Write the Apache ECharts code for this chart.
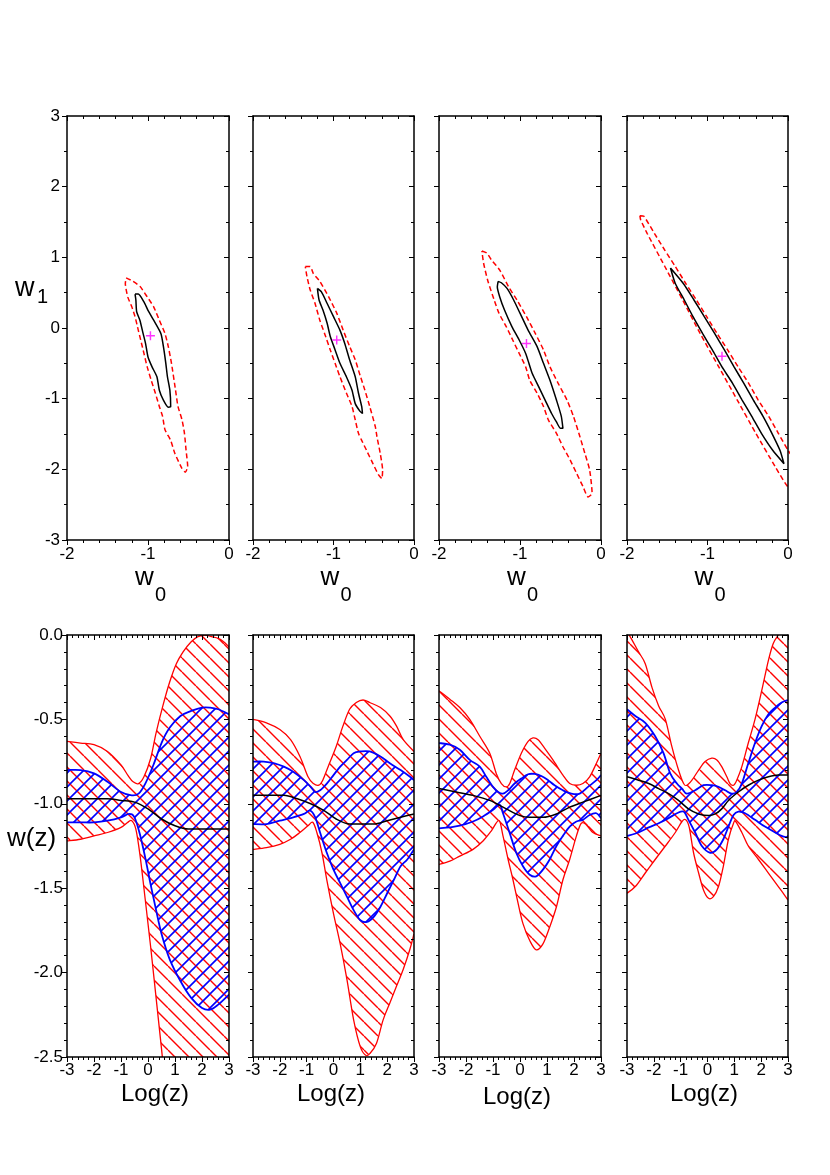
<!DOCTYPE html>
<html>
<head>
<meta charset="utf-8">
<title>w0-w1 contours and w(z) bands</title>
<script src="https://cdn.jsdelivr.net/npm/echarts@6/dist/echarts.min.js"></script>
<style>
html, body { margin: 0; padding: 0; background: #fff; }
#chart { width: 830px; height: 1175px; }
</style>
</head>
<body>
<div id="chart"></div>
<script>
// ---- axis ranges / ticks ----
var w0Range = [-2, 0];     // top row x
var w1Range = [-3, 3];     // top row y
var logzRange = [-3, 3];   // bottom row x
var wzRange = [-2.5, 0];   // bottom row y

// ---- top row: (w0, w1) contours ----
var black1 = [[-1.16,0.48],[-1.12,0.48],[-1.05,0.37],[-1.00,0.25],[-0.93,0.11],[-0.84,-0.08],[-0.81,-0.26],[-0.78,-0.50],[-0.76,-0.69],[-0.73,-0.88],[-0.72,-1.11],[-0.75,-1.12],[-0.81,-1.02],[-0.86,-0.88],[-0.89,-0.69],[-0.95,-0.55],[-1.00,-0.41],[-1.03,-0.22],[-1.06,-0.08],[-1.10,0.11],[-1.14,0.23],[-1.15,0.40],[-1.16,0.48]];
var red1 = [[-1.27,0.71],[-1.20,0.67],[-1.10,0.59],[-1.01,0.44],[-0.93,0.30],[-0.86,0.11],[-0.79,-0.08],[-0.75,-0.26],[-0.71,-0.50],[-0.66,-0.88],[-0.63,-1.11],[-0.58,-1.30],[-0.55,-1.49],[-0.53,-1.73],[-0.51,-1.96],[-0.54,-2.04],[-0.58,-1.99],[-0.67,-1.77],[-0.72,-1.59],[-0.79,-1.44],[-0.82,-1.25],[-0.86,-1.11],[-0.91,-0.92],[-0.96,-0.74],[-1.01,-0.55],[-1.05,-0.36],[-1.09,-0.17],[-1.12,-0.03],[-1.16,0.16],[-1.20,0.30],[-1.25,0.44],[-1.28,0.63],[-1.27,0.71]];

var black2 = [[-1.20,0.56],[-1.15,0.51],[-1.08,0.35],[-1.00,0.16],[-0.92,-0.03],[-0.86,-0.22],[-0.80,-0.45],[-0.73,-0.69],[-0.69,-0.92],[-0.65,-1.11],[-0.64,-1.21],[-0.67,-1.18],[-0.73,-1.07],[-0.77,-0.88],[-0.84,-0.69],[-0.92,-0.50],[-0.98,-0.31],[-1.04,-0.12],[-1.08,0.07],[-1.13,0.25],[-1.18,0.40],[-1.20,0.56]];
var red2 = [[-1.35,0.87],[-1.29,0.87],[-1.25,0.77],[-1.17,0.66],[-1.06,0.44],[-0.96,0.21],[-0.88,-0.03],[-0.80,-0.26],[-0.73,-0.45],[-0.67,-0.67],[-0.61,-0.88],[-0.55,-1.11],[-0.48,-1.40],[-0.46,-1.54],[-0.42,-1.77],[-0.39,-2.01],[-0.40,-2.13],[-0.44,-2.08],[-0.51,-1.92],[-0.59,-1.73],[-0.65,-1.59],[-0.69,-1.49],[-0.73,-1.30],[-0.77,-1.11],[-0.84,-0.92],[-0.92,-0.69],[-0.98,-0.50],[-1.04,-0.31],[-1.11,-0.08],[-1.17,0.11],[-1.23,0.35],[-1.29,0.54],[-1.33,0.73],[-1.35,0.87]];

var black3 = [[-1.27,0.66],[-1.23,0.64],[-1.16,0.56],[-1.08,0.40],[-1.00,0.21],[-0.90,-0.03],[-0.79,-0.26],[-0.71,-0.50],[-0.63,-0.74],[-0.55,-1.02],[-0.49,-1.25],[-0.47,-1.42],[-0.50,-1.42],[-0.55,-1.33],[-0.61,-1.21],[-0.69,-1.02],[-0.77,-0.83],[-0.85,-0.64],[-0.89,-0.50],[-0.93,-0.36],[-1.01,-0.17],[-1.10,0.02],[-1.19,0.25],[-1.25,0.44],[-1.28,0.58],[-1.27,0.66]];
var red3 = [[-1.47,1.09],[-1.41,1.06],[-1.35,0.96],[-1.25,0.82],[-1.14,0.58],[-1.04,0.40],[-0.92,0.16],[-0.81,-0.08],[-0.71,-0.31],[-0.63,-0.55],[-0.53,-0.78],[-0.42,-1.02],[-0.34,-1.25],[-0.26,-1.54],[-0.20,-1.77],[-0.14,-2.01],[-0.11,-2.34],[-0.16,-2.39],[-0.22,-2.25],[-0.30,-2.06],[-0.38,-1.87],[-0.47,-1.68],[-0.55,-1.49],[-0.65,-1.30],[-0.71,-1.11],[-0.79,-0.92],[-0.88,-0.74],[-0.93,-0.55],[-1.01,-0.36],[-1.09,-0.17],[-1.17,0.02],[-1.26,0.21],[-1.32,0.40],[-1.40,0.68],[-1.45,0.92],[-1.47,1.09]];

var black4 = [[-1.46,0.85],[-1.30,0.63],[-1.17,0.40],[-1.04,0.16],[-0.91,-0.08],[-0.79,-0.31],[-0.67,-0.55],[-0.55,-0.78],[-0.43,-1.02],[-0.31,-1.25],[-0.20,-1.49],[-0.10,-1.73],[-0.05,-1.92],[-0.19,-1.73],[-0.33,-1.49],[-0.45,-1.25],[-0.57,-1.02],[-0.69,-0.78],[-0.82,-0.55],[-0.94,-0.31],[-1.06,-0.08],[-1.18,0.16],[-1.29,0.40],[-1.40,0.63],[-1.46,0.85]];
var red4 = [[-1.84,1.59],[-1.79,1.58],[-1.66,1.34],[-1.53,1.10],[-1.40,0.87],[-1.27,0.63],[-1.14,0.40],[-1.01,0.16],[-0.88,-0.08],[-0.75,-0.31],[-0.62,-0.55],[-0.49,-0.78],[-0.37,-1.02],[-0.24,-1.25],[-0.12,-1.49],[0.00,-1.73],[0.09,-1.89],[0.12,-2.06],[0.09,-2.27],[0.00,-2.25],[-0.16,-1.96],[-0.40,-1.49],[-0.63,-1.02],[-0.86,-0.55],[-1.09,-0.08],[-1.31,0.40],[-1.53,0.87],[-1.75,1.34],[-1.83,1.53],[-1.84,1.59]];

var bestFit = [[-0.97,-0.11],[-0.96,-0.17],[-0.92,-0.22],[-0.82,-0.40]];

// ---- bottom row: w(z) against log(z) ----
var redUp1 = [[-3,-0.63],[-2.5,-0.64],[-2,-0.65],[-1.5,-0.69],[-1,-0.77],[-0.75,-0.83],[-0.55,-0.87],[-0.35,-0.88],[-0.15,-0.84],[0.1,-0.73],[0.3,-0.58],[0.55,-0.42],[0.8,-0.28],[1.05,-0.17],[1.3,-0.10],[1.6,-0.04],[1.85,-0.01],[2.1,0],[2.35,-0.01],[2.6,-0.02],[2.8,-0.04],[3,-0.07]];
var redLo1 = [[-3,-1.22],[-2.5,-1.21],[-2,-1.19],[-1.5,-1.17],[-1,-1.14],[-0.75,-1.11],[-0.6,-1.10],[-0.45,-1.15],[-0.3,-1.30],[-0.1,-1.57],[0.1,-1.85],[0.3,-2.15],[0.5,-2.45],[0.7,-2.75],[1,-3.0],[2,-3.2],[3,-3.3]];
var bluUp1 = [[-3,-0.80],[-2.5,-0.80],[-2,-0.82],[-1.5,-0.87],[-1,-0.93],[-0.6,-0.95],[-0.35,-0.94],[-0.1,-0.88],[0.2,-0.77],[0.5,-0.64],[0.8,-0.55],[1.2,-0.48],[1.6,-0.45],[2,-0.43],[2.3,-0.43],[2.6,-0.44],[3,-0.47]];
var bluLo1 = [[-3,-1.11],[-2.5,-1.11],[-2,-1.11],[-1.5,-1.10],[-1,-1.08],[-0.7,-1.06],[-0.5,-1.08],[-0.3,-1.18],[-0.1,-1.32],[0.1,-1.48],[0.3,-1.63],[0.5,-1.77],[0.8,-1.92],[1.2,-2.05],[1.6,-2.15],[2,-2.21],[2.3,-2.22],[2.6,-2.19],[3,-2.13]];
var mean1 = [[-3,-0.97],[-2.5,-0.97],[-2,-0.97],[-1.5,-0.97],[-1,-0.98],[-0.5,-0.99],[0,-1.03],[0.5,-1.09],[1,-1.13],[1.5,-1.15],[2,-1.15],[2.5,-1.15],[3,-1.15]];

var redUp2 = [[-3,-0.50],[-2.5,-0.52],[-2,-0.56],[-1.6,-0.62],[-1.25,-0.72],[-0.95,-0.84],[-0.75,-0.88],[-0.55,-0.89],[-0.4,-0.86],[-0.2,-0.78],[0.1,-0.66],[0.35,-0.54],[0.6,-0.44],[0.85,-0.40],[1.1,-0.385],[1.35,-0.40],[1.75,-0.43],[2.1,-0.48],[2.35,-0.54],[2.6,-0.62],[3,-0.69]];
var redLo2 = [[-3,-1.27],[-2.5,-1.26],[-2,-1.24],[-1.6,-1.21],[-1.25,-1.17],[-0.95,-1.13],[-0.77,-1.11],[-0.62,-1.17],[-0.43,-1.29],[-0.25,-1.45],[0,-1.65],[0.25,-1.83],[0.5,-2.04],[0.75,-2.28],[1,-2.44],[1.2,-2.49],[1.35,-2.48],[1.6,-2.42],[1.85,-2.28],[2.1,-2.18],[2.35,-2.08],[2.6,-1.98],[2.85,-1.86],[3,-1.77]];
var bluUp2 = [[-3,-0.75],[-2.6,-0.75],[-2.2,-0.76],[-1.85,-0.78],[-1.5,-0.81],[-1.1,-0.86],[-0.85,-0.90],[-0.68,-0.93],[-0.5,-0.92],[-0.25,-0.88],[0,-0.83],[0.25,-0.78],[0.5,-0.74],[0.75,-0.70],[1,-0.69],[1.35,-0.69],[1.75,-0.72],[2.1,-0.76],[2.5,-0.80],[2.85,-0.84],[3,-0.86]];
var bluLo2 = [[-3,-1.12],[-2.5,-1.12],[-2,-1.10],[-1.5,-1.08],[-1.1,-1.06],[-0.87,-1.04],[-0.68,-1.08],[-0.5,-1.17],[-0.25,-1.29],[0,-1.39],[0.25,-1.47],[0.5,-1.55],[0.75,-1.63],[1,-1.69],[1.25,-1.70],[1.5,-1.67],[1.75,-1.61],[2,-1.53],[2.25,-1.45],[2.5,-1.37],[2.75,-1.33],[3,-1.27]];
var mean2 = [[-3,-0.95],[-2.5,-0.95],[-1.85,-0.95],[-1.35,-0.97],[-0.85,-1.00],[-0.35,-1.04],[0.1,-1.09],[0.6,-1.12],[1,-1.12],[1.5,-1.12],[2,-1.10],[2.5,-1.08],[3,-1.06]];

var redUp3 = [[-3,-0.33],[-2.6,-0.38],[-2.23,-0.43],[-1.86,-0.50],[-1.49,-0.60],[-1.12,-0.70],[-0.88,-0.82],[-0.69,-0.88],[-0.51,-0.90],[-0.38,-0.88],[-0.2,-0.80],[0.05,-0.70],[0.3,-0.63],[0.48,-0.61],[0.67,-0.62],[0.91,-0.67],[1.22,-0.74],[1.59,-0.83],[1.84,-0.88],[2.09,-0.89],[2.33,-0.88],[2.58,-0.84],[2.83,-0.76],[3,-0.70]];
var redLo3 = [[-3,-1.36],[-2.6,-1.34],[-2.23,-1.31],[-1.74,-1.27],[-1.37,-1.22],[-1.06,-1.16],[-0.78,-1.10],[-0.63,-1.19],[-0.44,-1.33],[-0.26,-1.45],[-0.07,-1.59],[0.11,-1.71],[0.36,-1.81],[0.6,-1.865],[0.85,-1.83],[1.1,-1.73],[1.35,-1.61],[1.59,-1.45],[1.84,-1.33],[2.09,-1.19],[2.27,-1.115],[2.46,-1.125],[2.7,-1.17],[3,-1.19]];
var bluUp3 = [[-3,-0.64],[-2.6,-0.65],[-2.23,-0.68],[-1.86,-0.74],[-1.49,-0.78],[-1.25,-0.84],[-1,-0.90],[-0.81,-0.93],[-0.63,-0.94],[-0.44,-0.92],[-0.2,-0.88],[0.05,-0.85],[0.3,-0.825],[0.54,-0.823],[0.79,-0.835],[1.04,-0.86],[1.28,-0.89],[1.59,-0.92],[1.9,-0.94],[2.21,-0.94],[2.52,-0.90],[2.83,-0.86],[3,-0.83]];
var bluLo3 = [[-3,-1.145],[-2.6,-1.14],[-2.23,-1.13],[-1.74,-1.105],[-1.37,-1.075],[-1,-1.036],[-0.75,-1.006],[-0.63,-1.056],[-0.38,-1.174],[-0.14,-1.29],[0.11,-1.37],[0.36,-1.42],[0.6,-1.43],[0.85,-1.39],[1.1,-1.33],[1.35,-1.25],[1.59,-1.19],[1.84,-1.135],[2.09,-1.105],[2.33,-1.095],[2.58,-1.066],[2.83,-1.056],[3,-1.085]];
var mean3 = [[-3,-0.91],[-2.36,-0.93],[-1.74,-0.95],[-1.12,-0.98],[-0.51,-1.03],[0,-1.07],[0.36,-1.08],[0.85,-1.08],[1.35,-1.06],[1.84,-1.02],[2.33,-0.99],[3,-0.95]];

var redUp4 = [[-3,0.02],[-2.81,-0.03],[-2.57,-0.10],[-2.32,-0.17],[-2.07,-0.31],[-1.82,-0.42],[-1.57,-0.50],[-1.33,-0.66],[-1.08,-0.80],[-0.89,-0.88],[-0.77,-0.89],[-0.58,-0.86],[-0.33,-0.80],[-0.09,-0.75],[0.16,-0.73],[0.35,-0.74],[0.53,-0.78],[0.72,-0.84],[0.84,-0.88],[0.97,-0.89],[1.09,-0.86],[1.28,-0.78],[1.52,-0.64],[1.77,-0.50],[2.02,-0.33],[2.27,-0.15],[2.45,-0.05],[2.64,0.0],[3,0.08]];
var redLo4 = [[-3,-1.53],[-2.69,-1.49],[-2.32,-1.41],[-1.95,-1.33],[-1.57,-1.25],[-1.2,-1.17],[-0.95,-1.105],[-0.81,-1.095],[-0.68,-1.14],[-0.52,-1.29],[-0.33,-1.41],[-0.15,-1.51],[0.04,-1.56],[0.22,-1.55],[0.41,-1.49],[0.59,-1.37],[0.78,-1.21],[0.97,-1.115],[1.05,-1.105],[1.28,-1.17],[1.52,-1.25],[1.9,-1.33],[2.27,-1.41],[2.64,-1.49],[3,-1.57]];
var bluUp4 = [[-3,-0.44],[-2.69,-0.48],[-2.32,-0.52],[-1.95,-0.60],[-1.64,-0.70],[-1.39,-0.82],[-1.14,-0.88],[-0.95,-0.91],[-0.77,-0.94],[-0.46,-0.92],[-0.15,-0.89],[0.16,-0.89],[0.41,-0.90],[0.66,-0.92],[0.9,-0.94],[1.09,-0.93],[1.28,-0.88],[1.52,-0.76],[1.77,-0.64],[2.02,-0.54],[2.27,-0.47],[2.52,-0.43],[2.76,-0.40],[3,-0.385]];
var bluLo4 = [[-3,-1.19],[-2.57,-1.17],[-2.19,-1.14],[-1.82,-1.115],[-1.45,-1.085],[-1.14,-1.056],[-0.89,-1.046],[-0.71,-1.095],[-0.46,-1.17],[-0.21,-1.25],[0.1,-1.29],[0.35,-1.27],[0.59,-1.21],[0.78,-1.135],[0.97,-1.066],[1.15,-1.046],[1.4,-1.056],[1.77,-1.095],[2.14,-1.135],[2.52,-1.17],[2.76,-1.19],[3,-1.20]];
var mean4 = [[-3,-0.84],[-2.57,-0.86],[-2.19,-0.88],[-1.82,-0.91],[-1.45,-0.94],[-1.08,-0.98],[-0.71,-1.03],[-0.33,-1.06],[0.04,-1.07],[0.29,-1.06],[0.53,-1.03],[0.78,-0.98],[1.15,-0.93],[1.52,-0.89],[1.9,-0.86],[2.27,-0.84],[2.64,-0.83],[3,-0.83]];

var contoursBlack = [black1, black2, black3, black4];
var contoursRed = [red1, red2, red3, red4];
var redUpper = [redUp1, redUp2, redUp3, redUp4];
var redLower = [redLo1, redLo2, redLo3, redLo4];
var blueUpper = [bluUp1, bluUp2, bluUp3, bluUp4];
var blueLower = [bluLo1, bluLo2, bluLo3, bluLo4];
var means = [mean1, mean2, mean3, mean4];

// ---- layout ----
var FONT = "'Liberation Sans', Arial, Helvetica, sans-serif";
var colLeft = [67, 253, 439, 627];
var colWidth = [162, 161, 162, 161];

// diagonal hatch tile, dir '\\' or '/'
function hatch(color, dir, s, lw) {
    var c = document.createElement('canvas');
    c.width = s; c.height = s;
    var g = c.getContext('2d');
    g.strokeStyle = color;
    g.lineWidth = lw;
    g.beginPath();
    for (var k = -1; k <= 1; k++) {
        if (dir === '\\') { g.moveTo(k * s, 0); g.lineTo(k * s + s, s); }
        else { g.moveTo(k * s, s); g.lineTo(k * s + s, 0); }
    }
    g.stroke();
    return c;
}
var redHatch = hatch('#ff0000', '\\', 14, 1.4);
var blueHatch = hatch('#0000ff', '/', 14, 1.6);

// smooth path through pixel points (catmull-rom as cubic bezier)
function curve(pts, cmd) {
    var n = pts.length;
    var d = cmd + pts[0][0].toFixed(2) + ' ' + pts[0][1].toFixed(2);
    for (var i = 0; i < n - 1; i++) {
        var p0 = pts[Math.max(i - 1, 0)], p1 = pts[i], p2 = pts[i + 1], p3 = pts[Math.min(i + 2, n - 1)];
        var c1x = p1[0] + (p2[0] - p0[0]) / 6, c1y = p1[1] + (p2[1] - p0[1]) / 6;
        var c2x = p2[0] - (p3[0] - p1[0]) / 6, c2y = p2[1] - (p3[1] - p1[1]) / 6;
        d += ' C' + c1x.toFixed(2) + ' ' + c1y.toFixed(2) + ' ' + c2x.toFixed(2) + ' ' + c2y.toFixed(2) +
             ' ' + p2[0].toFixed(2) + ' ' + p2[1].toFixed(2);
    }
    return d;
}

var grids = [], xAxes = [], yAxes = [], series = [];

function axisPair(g, rng, interval, split, isX, labelMargin, fmt, showLabel) {
    var common = {
        gridIndex: g, type: 'value', min: rng[0], max: rng[1], interval: interval,
        z: 10,
        axisLine: { show: true, onZero: false, lineStyle: { color: '#000', width: 1.5 } },
        minorTick: { show: true, splitNumber: split, length: 3, lineStyle: { color: '#000', width: 1 } },
        splitLine: { show: false },
        minorSplitLine: { show: false }
    };
    var main = Object.assign({}, common, {
        position: isX ? 'bottom' : 'left',
        axisTick: { show: true, inside: false, length: 5, lineStyle: { color: '#000', width: 1 } },
        axisLabel: {
            show: showLabel, color: '#000', fontSize: 17, fontFamily: FONT, margin: labelMargin,
            showMinLabel: true, showMaxLabel: true, hideOverlap: false,
            formatter: fmt
        }
    });
    var mirror = Object.assign({}, common, {
        position: isX ? 'top' : 'right',
        axisTick: { show: true, inside: true, length: 5, lineStyle: { color: '#000', width: 1 } },
        axisLabel: { show: false }
    });
    return [main, mirror];
}

function intFmt(v) { return String(Math.round(v)); }
function oneDec(v) { return v.toFixed(1); }

// top row
for (var i = 0; i < 4; i++) {
    var g = i;
    grids.push({ left: colLeft[i], width: colWidth[i], top: 116, height: 424, outerBoundsMode: 'none', containLabel: false });
    xAxes = xAxes.concat(axisPair(g, w0Range, 1, 5, true, 6, intFmt, true));
    yAxes = yAxes.concat(axisPair(g, w1Range, 1, 2, false, 7, intFmt, i === 0));
    series.push({
        type: 'line', xAxisIndex: 2 * g, yAxisIndex: 2 * g, data: contoursRed[i],
        symbol: 'none', silent: true, z: 3, smooth: 0.2,
        lineStyle: { color: '#ff0000', width: 1.5, type: [5, 3] }
    });
    series.push({
        type: 'line', xAxisIndex: 2 * g, yAxisIndex: 2 * g, data: contoursBlack[i],
        symbol: 'none', silent: true, z: 4, smooth: 0.2,
        lineStyle: { color: '#000', width: 1.5 }
    });
    series.push({
        type: 'scatter', xAxisIndex: 2 * g, yAxisIndex: 2 * g, data: [bestFit[i]],
        symbol: 'path://M4.2,0h1.6v10h-1.6z M0,4.2h10v1.6h-10z', symbolSize: 9,
        itemStyle: { color: '#ff00ff' }, silent: true, z: 5
    });
}

function band(g, upper, lower, color, pattern, lw, z) {
    return {
        type: 'custom', xAxisIndex: 2 * g, yAxisIndex: 2 * g,
        data: [[0, -1]], clip: true, silent: true, z: z,
        renderItem: function (params, api) {
            var cs = params.coordSys;
            var up = upper.map(function (p) { return api.coord(p); });
            var lo = lower.map(function (p) { return api.coord(p); });
            var loRev = lo.slice().reverse();
            var upD = curve(up, 'M');
            var loD = curve(lo, 'M');
            var fillD = upD + ' ' + curve(loRev, 'L') + ' Z';
            return {
                type: 'group',
                clipPath: { type: 'rect', shape: { x: cs.x, y: cs.y, width: cs.width, height: cs.height } },
                children: [
                    { type: 'path', shape: { pathData: fillD },
                      style: { fill: { image: pattern, repeat: 'repeat' }, stroke: null } },
                    { type: 'path', shape: { pathData: upD },
                      style: { fill: null, stroke: color, lineWidth: lw } },
                    { type: 'path', shape: { pathData: loD },
                      style: { fill: null, stroke: color, lineWidth: lw } }
                ]
            };
        }
    };
}

// bottom row
for (var j = 0; j < 4; j++) {
    var gb = 4 + j;
    grids.push({ left: colLeft[j], width: colWidth[j], top: 635, height: 422, outerBoundsMode: 'none', containLabel: false });
    xAxes = xAxes.concat(axisPair(gb, logzRange, 1, 5, true, 5, intFmt, true));
    yAxes = yAxes.concat(axisPair(gb, wzRange, 0.5, 5, false, 4, oneDec, j === 0));
    series.push(band(gb, redUpper[j], redLower[j], '#ff0000', redHatch, 1.3, 2));
    series.push(band(gb, blueUpper[j], blueLower[j], '#0000ff', blueHatch, 1.8, 3));
    series.push({
        type: 'line', xAxisIndex: 2 * gb, yAxisIndex: 2 * gb, data: means[j],
        symbol: 'none', silent: true, z: 4, smooth: 0.3,
        lineStyle: { color: '#000', width: 1.5 }
    });
}

// axis titles
var graphics = [];
function txt(x, y, s, size, align) {
    graphics.push({
        type: 'text', x: x, y: y, silent: true,
        style: { text: s, fontSize: size, fontFamily: FONT, fill: '#000', align: align || 'left', verticalAlign: 'middle' }
    });
}
txt(15, 289, 'w', 27);
txt(37, 297, '1', 20);
for (var k = 0; k < 4; k++) {
    var cx = colLeft[k] + colWidth[k] / 2;
    txt(cx - 13, 578, 'w', 26);
    txt(cx + 7, 595, '0', 20);
}
txt(7, 839, 'w(z)', 26);
var logzLabelX = [155, 331, 517, 704];
var logzLabelY = [1094, 1094, 1097, 1094];
for (var m = 0; m < 4; m++) {
    txt(logzLabelX[m], logzLabelY[m], 'Log(z)', 24, 'center');
}

var chart = echarts.init(document.getElementById('chart'), null, { renderer: 'canvas' });
chart.setOption({
    animation: false,
    backgroundColor: '#fff',
    grid: grids,
    xAxis: xAxes,
    yAxis: yAxes,
    series: series,
    graphic: graphics
});
</script>
</body>
</html>
